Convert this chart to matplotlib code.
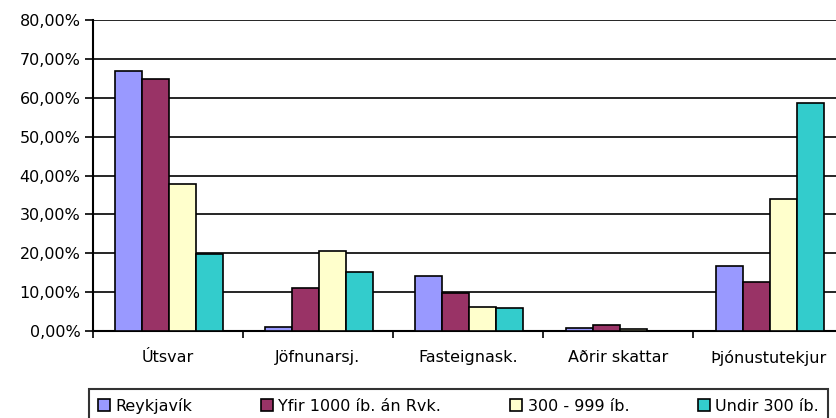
import numpy as np
import matplotlib.pyplot as plt
from matplotlib.ticker import FuncFormatter

plt.rcParams.update({
    'font.family': 'DejaVu Sans',
    'font.size': 11.5,
})

categories = ['Útsvar', 'Jöfnunarsj.', 'Fasteignask.', 'Aðrir skattar', 'Þjónustutekjur']
series_names = ['Reykjavík', 'Yfir 1000 íb. án Rvk.', '300 - 999 íb.', 'Undir 300 íb.']
reykjavik = [0.670, 0.010, 0.141, 0.008, 0.167]
yfir_1000 = [0.648, 0.110, 0.098, 0.015, 0.126]
mid_300_999 = [0.378, 0.206, 0.062, 0.004, 0.339]
undir_300 = [0.198, 0.152, 0.059, 0.001, 0.586]
colors = ['#9999FF', '#993366', '#FFFFCC', '#33CCCC']

fig = plt.figure(figsize=(8.36, 4.18), dpi=100)
ax = fig.add_axes([0.1112, 0.2081, 0.8972, 0.7439])

x = np.arange(len(categories))
width = 0.18
all_series = [reykjavik, yfir_1000, mid_300_999, undir_300]
handles = []
for i, (vals, name) in enumerate(zip(all_series, series_names)):
    b = ax.bar(x - 1.5 * width + i * width + 0.01, vals, width, color=colors[i],
               edgecolor='black', linewidth=1.2, label=name, zorder=3)
    handles.append(b)

ax.set_xlim(-0.5, len(categories) - 0.5)
ax.set_ylim(0, 0.8)
ax.set_yticks(np.arange(0, 0.81, 0.1))
ax.yaxis.set_major_formatter(FuncFormatter(lambda v, p: f'{v*100:.2f}%'.replace('.', ',')))
ax.grid(axis='y', color='black', linewidth=1.2, zorder=0)
ax.tick_params(axis='y', length=6, width=1.2, color='black', pad=3)

# boundaries as ticks, category names centered
ax.set_xticks(np.arange(-0.5, len(categories), 1.0))
ax.set_xticklabels([])
ax.tick_params(axis='x', which='major', length=5, width=1.2, direction='out')
ax.set_xticks(x, minor=True)
ax.set_xticklabels(categories, minor=True)
ax.tick_params(axis='x', which='minor', length=0, pad=14)

for side in ['top', 'right']:
    ax.spines[side].set_visible(False)
for side in ['left', 'bottom']:
    ax.spines[side].set_linewidth(1.5)

leg = fig.legend(handles=handles, loc='upper left', bbox_to_anchor=(89 / 836, 1 - 389 / 418),
                 ncol=4, frameon=True, fancybox=False, edgecolor='black',
                 handlelength=0.75, handleheight=0.75, handletextpad=0.35,
                 columnspacing=4.3, borderpad=0.55, borderaxespad=0)
leg.get_frame().set_linewidth(1.5)

fig.savefig('out.png', dpi=100)
